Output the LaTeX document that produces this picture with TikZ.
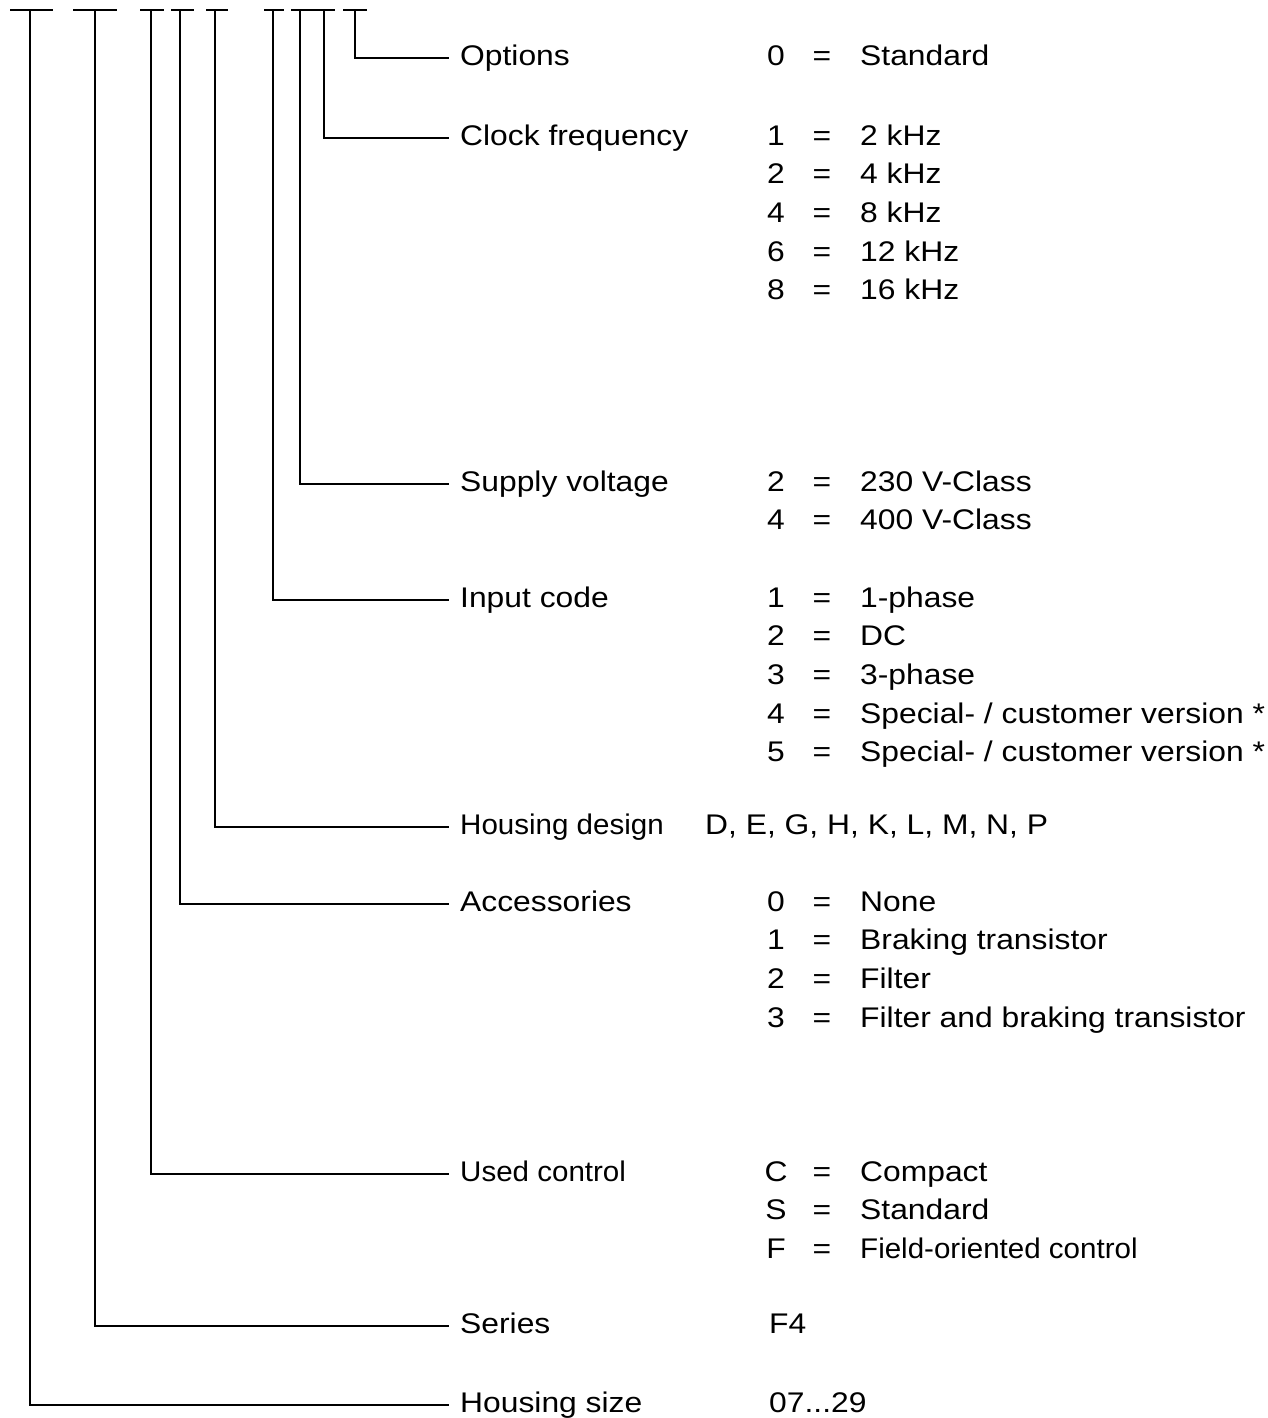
\documentclass[tikz,border=0pt]{standalone}
\usepackage{fontspec}
\setmainfont[FakeStretch=1.12]{Liberation Sans}
\newfontfamily\narrowfont[FakeStretch=1.04]{Liberation Sans}
\usetikzlibrary{positioning}

\tikzset{
  lbl/.style={anchor=west, inner xsep=5pt, inner ysep=0pt, yshift=-1.5pt, text height=0.72em, text depth=0pt},
  key/.style={anchor=center, inner sep=0pt, yshift=-1.5pt, text height=0.72em, text depth=0pt},
  val/.style={anchor=west, inner sep=0pt, yshift=-1.5pt, text height=0.72em, text depth=0pt}
}
\newcommand{\keyrows}[3]{% prefix, y of first row, list key/text
  \foreach \k/\t [count=\i from 0] in {#3} {
    \node[key] (#1k\i) at (776, #2+38.6*\i) {\k};
    \node[key] (#1e\i) at (822, #2+38.6*\i) {=};
    \node[val] (#1v\i) at (859, #2+38.6*\i) {\t};
  }
}

\begin{document}
\begin{tikzpicture}[x=0.5pt, y=-0.5pt, line width=1.2pt, font=\fontsize{14.2}{17}\selectfont]
		\useasboundingbox (0,0) rectangle (1268,1418);
		% code positions along the top
		\foreach \n/\x/\l/\r in {1/30/10/53, 2/95/73/117, 3/151/140/164, 4/180/171/194, 5/215/206/228,
		    6/273/264/284, 7/300/291/313, 8/324/313/335, 9/355/343/367} {
			\coordinate (t\n) at (\x, 10);
			\draw (\l, 10) -- (\r, 10);
		}
		% labels
		\node[lbl] (opt) at (449, 55) {Options};
		\node[lbl] (clk) at (449, 135) {Clock frequency};
		\node[lbl] (sup) at (449, 481) {Supply voltage};
		\node[lbl] (inp) at (449, 597) {Input code};
		\node[lbl] (hsd) at (449, 824) {\narrowfont Housing design};
		\node[lbl] (acc) at (449, 901) {Accessories};
		\node[lbl] (ctl) at (449, 1171) {\narrowfont Used control};
		\node[lbl] (ser) at (449, 1323) {Series};
		\node[lbl] (hsz) at (449, 1402) {Housing size};
		\draw (t9) |- (opt.west);
		\draw (t8) |- (clk.west);
		\draw (t7) |- (sup.west);
		\draw (t6) |- (inp.west);
		\draw (t5) |- (hsd.west);
		\draw (t4) |- (acc.west);
		\draw (t3) |- (ctl.west);
		\draw (t2) |- (ser.west);
		\draw (t1) |- (hsz.west);
		% values
		\keyrows{opt}{55}{0/Standard}
		\keyrows{clk}{135}{1/2 kHz, 2/4 kHz, 4/8 kHz, 6/12 kHz, 8/16 kHz}
		\keyrows{sup}{481}{2/230 V-Class, 4/400 V-Class}
		\keyrows{inp}{597}{1/1-phase, 2/DC, 3/3-phase, 4/{Special- / customer version *}, 5/{Special- / customer version *}}
		\node[val] (hsdv) at (704, 824) {D, E, G, H, K, L, M, N, P};
		\keyrows{acc}{901}{0/None, 1/Braking transistor, 2/Filter, 3/Filter and braking transistor}
		\keyrows{ctl}{1171}{C/Compact, S/Standard, F/{\narrowfont Field-oriented control}}
		\node[val] (serv) at (768, 1323) {F4};
		\node[val] (hszv) at (768, 1402) {07...29};
	\end{tikzpicture}
\end{document}
